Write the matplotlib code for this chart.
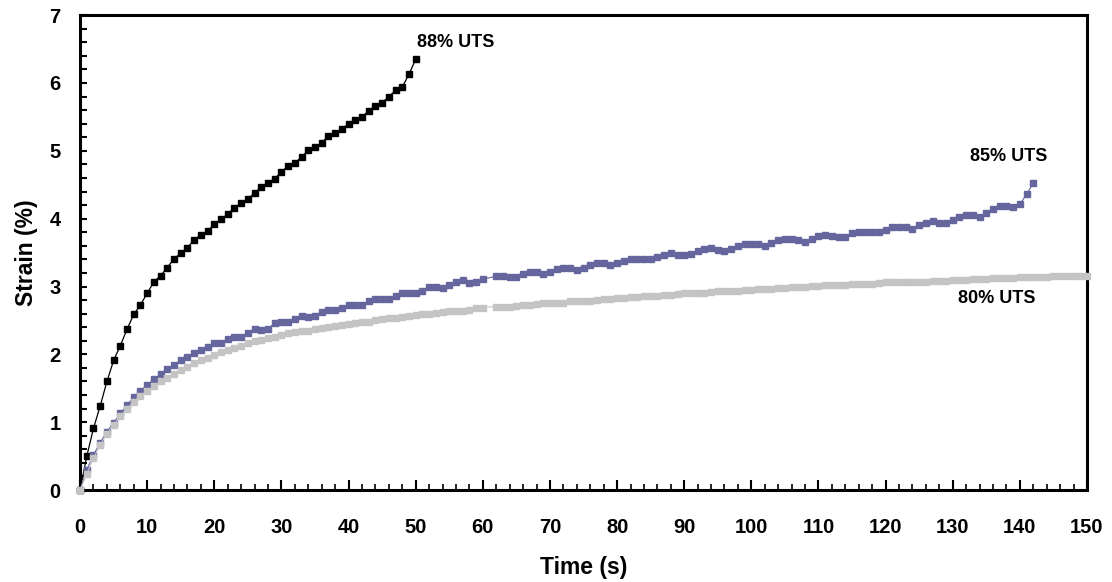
from __future__ import annotations

import matplotlib
import matplotlib.pyplot as plt
import numpy as np
from matplotlib.ticker import MultipleLocator

matplotlib.use("Agg")

plt.rcParams["font.family"] = ["Liberation Sans", "DejaVu Sans"]
plt.rcParams["font.weight"] = "bold"

# strain (%) sampled once per second
time_88 = np.arange(0, 51)
strain_88 = [
    0, 0.50, 0.91, 1.24, 1.60, 1.91, 2.13, 2.37, 2.59, 2.73,
    2.90, 3.07, 3.16, 3.28, 3.41, 3.49, 3.57, 3.69, 3.76, 3.82,
    3.92, 3.99, 4.07, 4.16, 4.23, 4.29, 4.38, 4.47, 4.53, 4.59,
    4.69, 4.78, 4.82, 4.91, 5.01, 5.05, 5.12, 5.22, 5.26, 5.32,
    5.40, 5.46, 5.50, 5.59, 5.66, 5.71, 5.80, 5.89, 5.94, 6.13,
    6.35,
]

time_85 = np.arange(0, 143)
strain_85 = [
    0, 0.30, 0.52, 0.70, 0.86, 0.99, 1.13, 1.25, 1.37, 1.46,
    1.55, 1.63, 1.71, 1.79, 1.84, 1.92, 1.96, 2.02, 2.07, 2.11,
    2.16, 2.16, 2.23, 2.26, 2.25, 2.32, 2.37, 2.36, 2.38, 2.46,
    2.48, 2.48, 2.52, 2.57, 2.55, 2.57, 2.63, 2.65, 2.65, 2.68,
    2.73, 2.73, 2.73, 2.79, 2.82, 2.82, 2.82, 2.86, 2.90, 2.90,
    2.90, 2.94, 3.00, 3.00, 2.98, 3.02, 3.06, 3.09, 3.05, 3.07,
    3.11, 3.13, 3.15, 3.15, 3.14, 3.14, 3.19, 3.22, 3.21, 3.19,
    3.22, 3.26, 3.27, 3.27, 3.24, 3.27, 3.31, 3.34, 3.34, 3.32,
    3.34, 3.38, 3.41, 3.41, 3.40, 3.40, 3.43, 3.47, 3.49, 3.47,
    3.47, 3.48, 3.53, 3.55, 3.57, 3.54, 3.53, 3.56, 3.59, 3.63,
    3.63, 3.62, 3.60, 3.64, 3.68, 3.70, 3.70, 3.68, 3.66, 3.70,
    3.74, 3.76, 3.75, 3.73, 3.73, 3.79, 3.81, 3.81, 3.80, 3.80,
    3.84, 3.88, 3.88, 3.87, 3.85, 3.90, 3.94, 3.96, 3.93, 3.93,
    3.98, 4.03, 4.06, 4.05, 4.02, 4.09, 4.14, 4.19, 4.19, 4.17,
    4.21, 4.36, 4.52,
]

time_80 = np.arange(0, 151)
strain_80 = [
    0, 0.24, 0.47, 0.66, 0.83, 0.96, 1.09, 1.20, 1.30, 1.39,
    1.46, 1.53, 1.60, 1.65, 1.71, 1.77, 1.82, 1.87, 1.92, 1.95,
    1.99, 2.03, 2.06, 2.10, 2.13, 2.16, 2.19, 2.21, 2.24, 2.26,
    2.28, 2.31, 2.33, 2.34, 2.35, 2.37, 2.39, 2.41, 2.42, 2.44,
    2.45, 2.46, 2.47, 2.48, 2.50, 2.52, 2.53, 2.54, 2.55, 2.57,
    2.58, 2.59, 2.60, 2.61, 2.63, 2.64, 2.64, 2.64, 2.66, 2.68,
    2.69, 2.70, 2.70, 2.70, 2.70, 2.72, 2.73, 2.73, 2.74, 2.75,
    2.75, 2.76, 2.76, 2.78, 2.79, 2.79, 2.79, 2.80, 2.82, 2.82,
    2.83, 2.83, 2.84, 2.85, 2.86, 2.86, 2.86, 2.87, 2.87, 2.89,
    2.90, 2.90, 2.91, 2.91, 2.92, 2.93, 2.94, 2.94, 2.94, 2.95,
    2.95, 2.96, 2.97, 2.97, 2.98, 2.98, 2.99, 3.00, 3.00, 3.01,
    3.01, 3.02, 3.02, 3.02, 3.02, 3.03, 3.03, 3.04, 3.04, 3.05,
    3.06, 3.06, 3.06, 3.07, 3.06, 3.07, 3.07, 3.08, 3.08, 3.08,
    3.09, 3.09, 3.10, 3.11, 3.11, 3.11, 3.12, 3.13, 3.13, 3.13,
    3.14, 3.14, 3.14, 3.14, 3.14, 3.15, 3.15, 3.15, 3.16, 3.16,
    3.16,
]

labels = ["88% UTS", "85% UTS", "80% UTS"]
label_pos = [(55.9, 6.60), (138.4, 4.91), (136.5, 2.83)]

COLORS = {"88": "#000000", "85": "#66669e", "80": "#c4c4c4"}

fig = plt.figure(figsize=(11.12, 5.82), dpi=100)
ax = fig.add_axes([0.072, 0.158, 0.9055, 0.816])

# one sample (t=61 s) has no marker in the original
skip = lambda n: [i for i in range(n) if i != 61]

ax.plot(time_88, strain_88, color=COLORS["88"], linewidth=0.9, marker="s",
        markersize=4.3, clip_on=False, zorder=3)
ax.plot(time_85, strain_85, color=COLORS["85"], linewidth=0.8, marker="s",
        markersize=4.0, markevery=skip(len(time_85)), clip_on=False, zorder=3)
ax.plot(time_80, strain_80, color=COLORS["80"], linewidth=0.8, marker="s",
        markersize=4.0, markevery=skip(len(time_80)), clip_on=False, zorder=4)

for text, (tx, ty) in zip(labels, label_pos):
    ax.text(tx, ty, text, ha="center", va="center", fontsize=13, fontweight="bold")

ax.set_xlim(0, 150)
ax.set_ylim(0, 7)
ax.xaxis.set_major_locator(MultipleLocator(10))
ax.xaxis.set_minor_locator(MultipleLocator(2))
ax.yaxis.set_major_locator(MultipleLocator(1))
ax.yaxis.set_minor_locator(MultipleLocator(0.2))

ax.tick_params(axis="x", which="major", direction="in", length=7, width=1.5,
               pad=20, labelsize=14.5)
ax.tick_params(axis="x", which="minor", direction="in", length=4, width=1.2)
ax.tick_params(axis="y", which="both", direction="in", length=5, width=1.5,
               pad=14, labelsize=14.5)
for lbl in ax.get_xticklabels() + ax.get_yticklabels():
    lbl.set_fontweight("bold")

for spine in ax.spines.values():
    spine.set_linewidth(2.2)

ax.set_xlabel("Time (s)", fontsize=16.5, fontweight="bold", labelpad=14)
ax.set_ylabel("Strain (%)", fontsize=16.5, fontweight="bold", labelpad=8)

fig.savefig("out.png", dpi=100)
plt.close(fig)
